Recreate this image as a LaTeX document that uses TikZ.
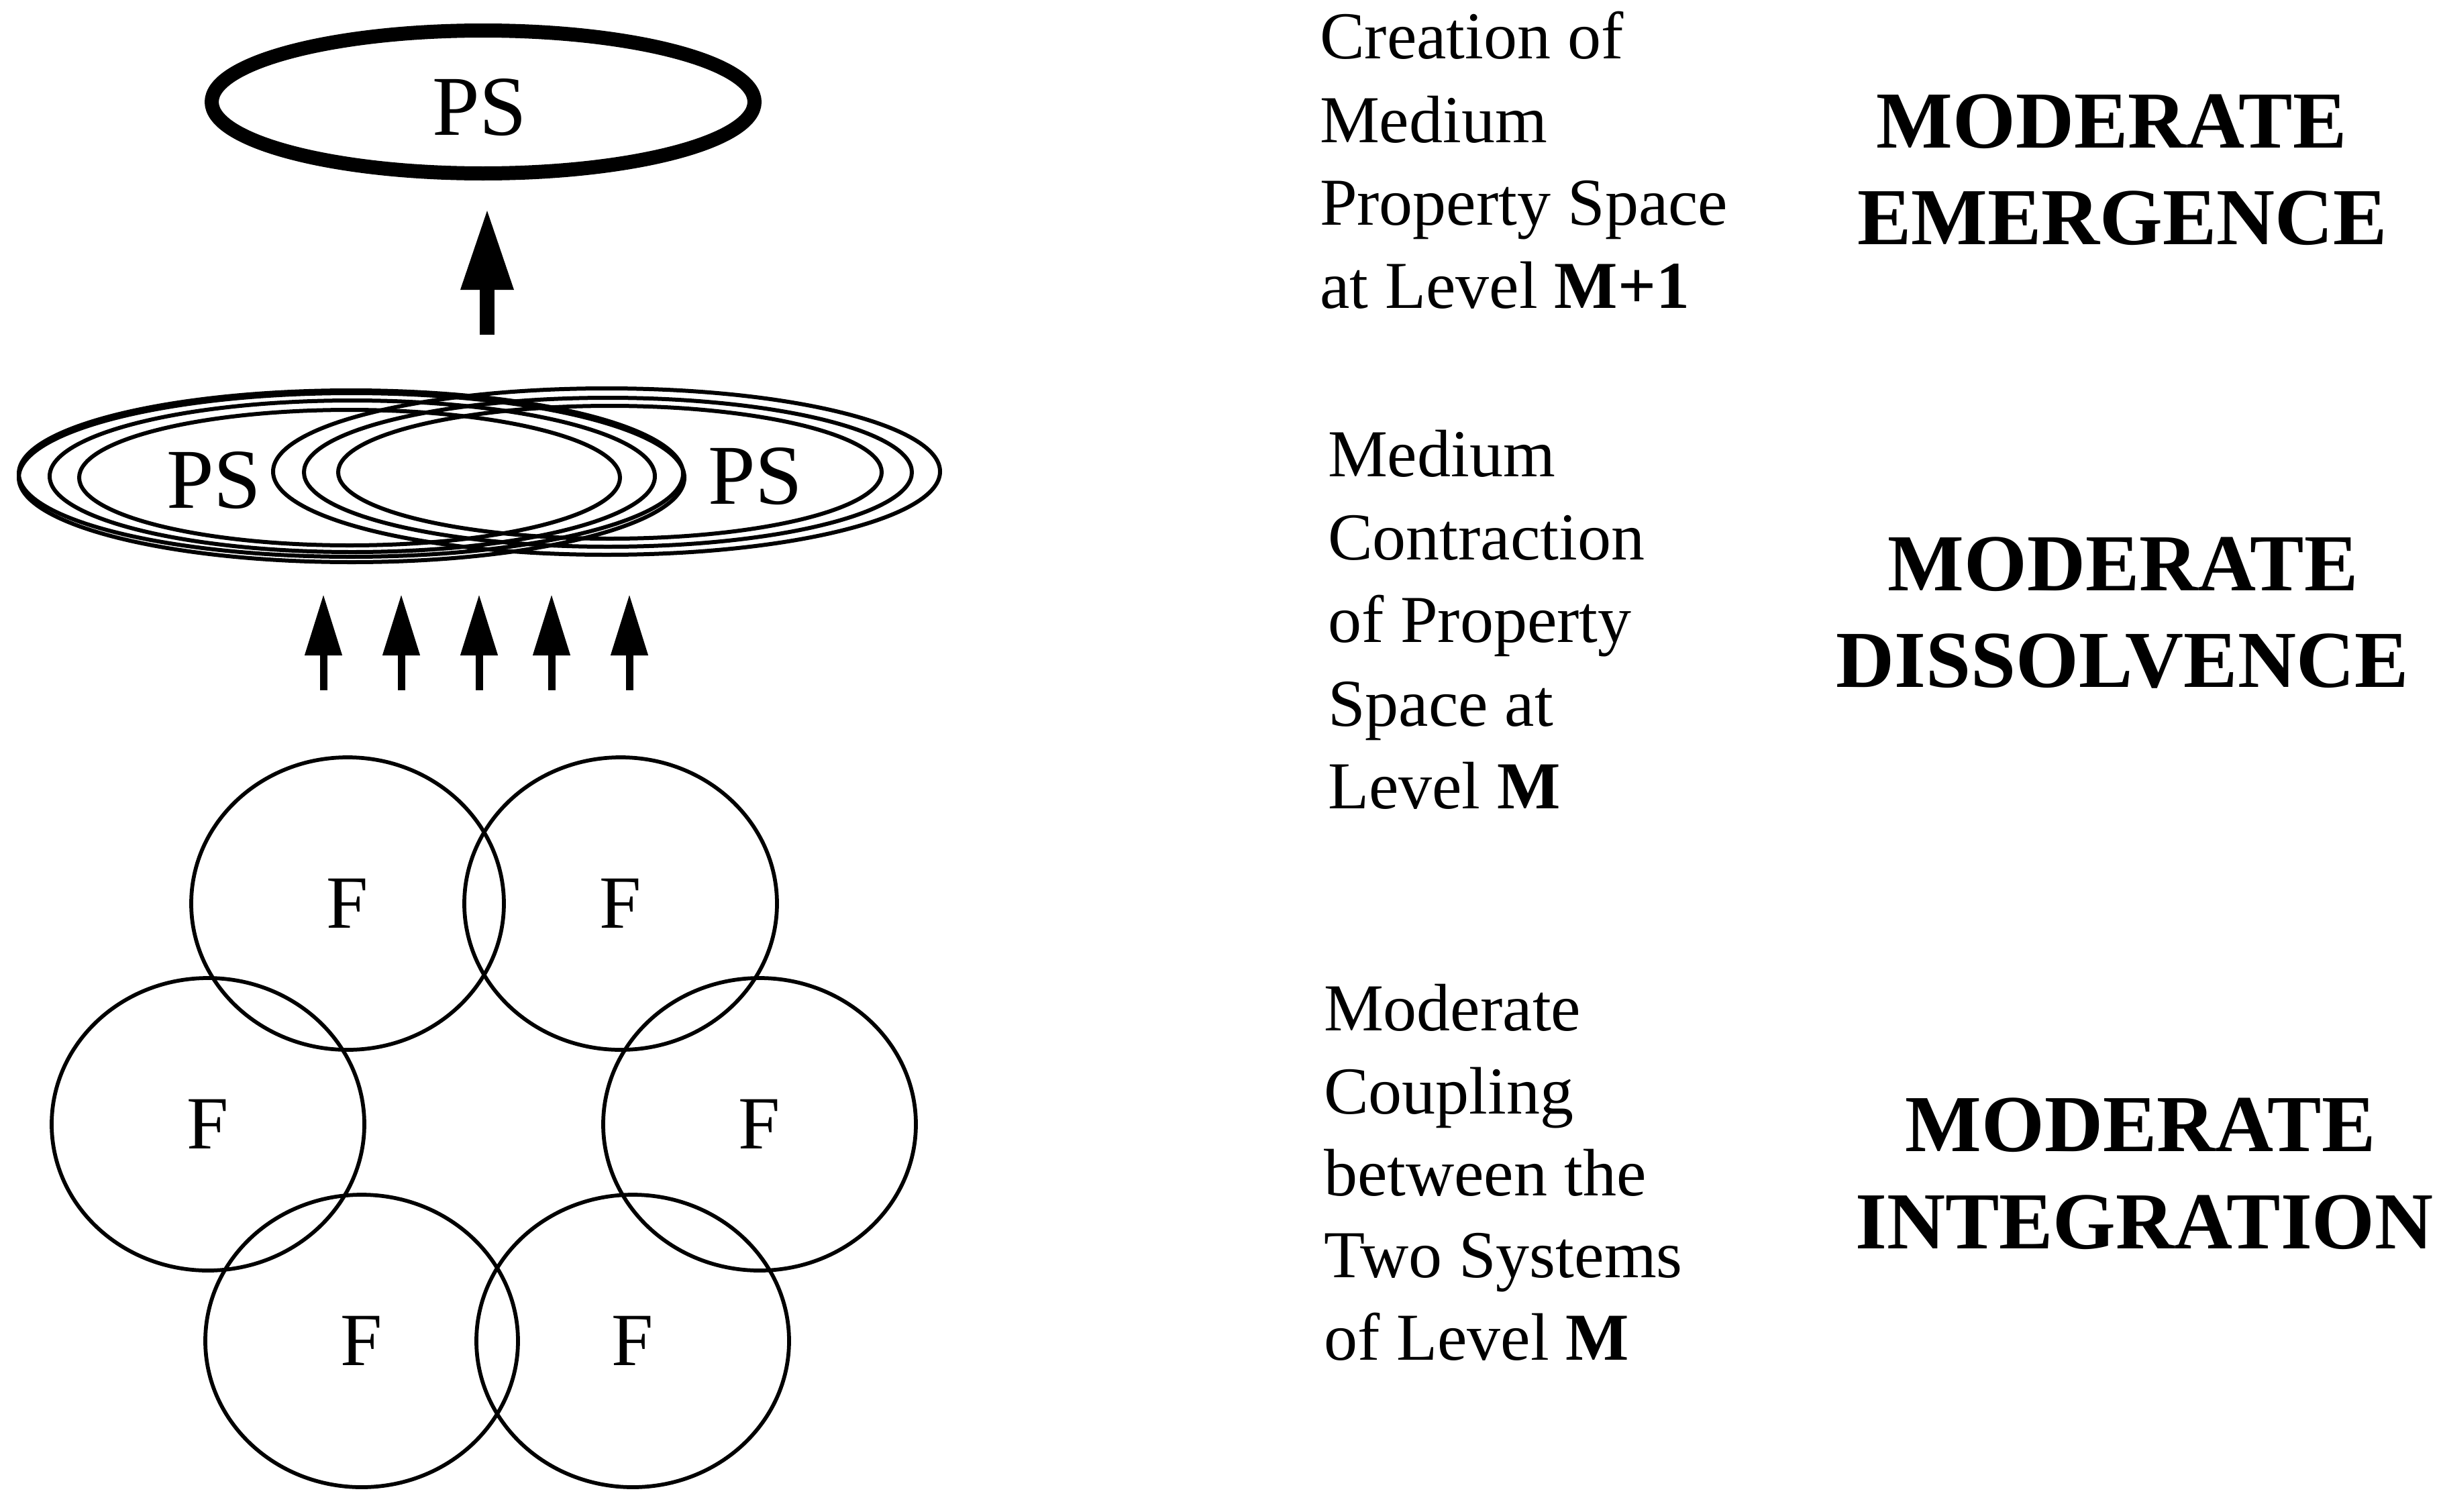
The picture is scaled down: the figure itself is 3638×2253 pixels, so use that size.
\documentclass[tikz,border=0pt]{standalone}
\usepackage{fontspec}
\setmainfont{Liberation Serif}
\usetikzlibrary{arrows.meta,shapes.geometric}
\begin{document}
\begin{tikzpicture}[x=0.2pt,y=-0.2pt,
  lbl/.style={font=\fontsize{20}{24.7}\selectfont, anchor=base west, inner sep=0pt},
  head/.style={font=\fontsize{24.1}{28.8}\selectfont\bfseries, anchor=base, inner sep=0pt},
  fcirc/.style={draw, line width=1.15pt, ellipse, minimum width=93.2pt, minimum height=87.2pt, inner sep=0pt, font=\fontsize{22.4}{26}\selectfont},
  ring/.style={line width=1.2pt},
  uparrow/.style={line width=2.2pt, -{Triangle[length=18.2pt,width=10.6pt]}},
  bigarrow/.style={line width=4.4pt, -{Triangle[length=24.4pt,width=14.6pt]}},
  pslbl/.style={font=\fontsize{25.4}{30}\selectfont, inner sep=0pt}
]
\useasboundingbox (0,0) rectangle (3638,2253);

% top property space
\draw[line width=4.2pt] (720,152) ellipse [x radius=404.5, y radius=106.5];
\node[pslbl] (pstop) at (715,160) {PS};

% big arrow
\coordinate (bigA0) at (726,499);
\coordinate (bigA1) at (726,310);
\draw[bigarrow] (bigA0) -- (bigA1);

% overlapping property spaces
\draw[ring] (524,712) ellipse [x radius=496, y radius=126];
\draw[ring] (523,706) ellipse [x radius=495, y radius=124];
\draw[ring] (525,710) ellipse [x radius=451, y radius=113];
\draw[ring] (521,712) ellipse [x radius=403, y radius=101];
\draw[ring] (904,703) ellipse [x radius=497, y radius=124];
\draw[ring] (906,704) ellipse [x radius=453, y radius=111];
\draw[ring] (909,704) ellipse [x radius=405, y radius=99];
\node[pslbl] (psl) at (319,716) {PS};
\node[pslbl] (psr) at (1126,710) {PS};

% small arrows
\foreach \i/\x in {1/482,2/598,3/714,4/822,5/938}{
  \coordinate (sa\i b) at (\x,1029);
  \coordinate (sa\i t) at (\x,886);
  \draw[uparrow] (sa\i b) -- (sa\i t);
}

% F circles
\node[fcirc] (f1) at (518,1347) {F};
\node[fcirc] (f2) at (925,1347) {F};
\node[fcirc] (f3) at (310,1676) {F};
\node[fcirc] (f4) at (1132,1676) {F};
\node[fcirc] (f5) at (539,1999) {F};
\node[fcirc] (f6) at (943,1999) {F};

% descriptions
\node[lbl] (t1a) at (1966,87) {Creation of};
\node[lbl] (t1b) at (1966,212) {Medium};
\node[lbl] (t1c) at (1966,335) {Property Space};
\node[lbl] (t1d) at (1966,459) {at Level \textbf{M+1}};

\node[lbl] (t2a) at (1978,710) {Medium};
\node[lbl] (t2b) at (1978,834) {Contraction};
\node[lbl] (t2c) at (1978,957) {of Property};
\node[lbl] (t2d) at (1978,1082) {Space at};
\node[lbl] (t2e) at (1978,1205) {Level \textbf{M}};

\node[lbl] (t3a) at (1972,1536) {Moderate};
\node[lbl] (t3b) at (1972,1660) {Coupling};
\node[lbl] (t3c) at (1972,1782) {between the};
\node[lbl] (t3d) at (1972,1904) {Two Systems};
\node[lbl] (t3e) at (1972,2027) {of Level \textbf{M}};

% headings
\node[head] (h1a) at (3147,220) {MODERATE};
\node[head] (h1b) at (3163,364) {EMERGENCE};
\node[head] (h2a) at (3164,880) {MODERATE};
\node[head] (h2b) at (3163,1024) {DISSOLVENCE};
\node[head] (h3a) at (3190,1716) {MODERATE};
\node[head] (h3b) at (3196,1861) {INTEGRATION};
\end{tikzpicture}
\end{document}
